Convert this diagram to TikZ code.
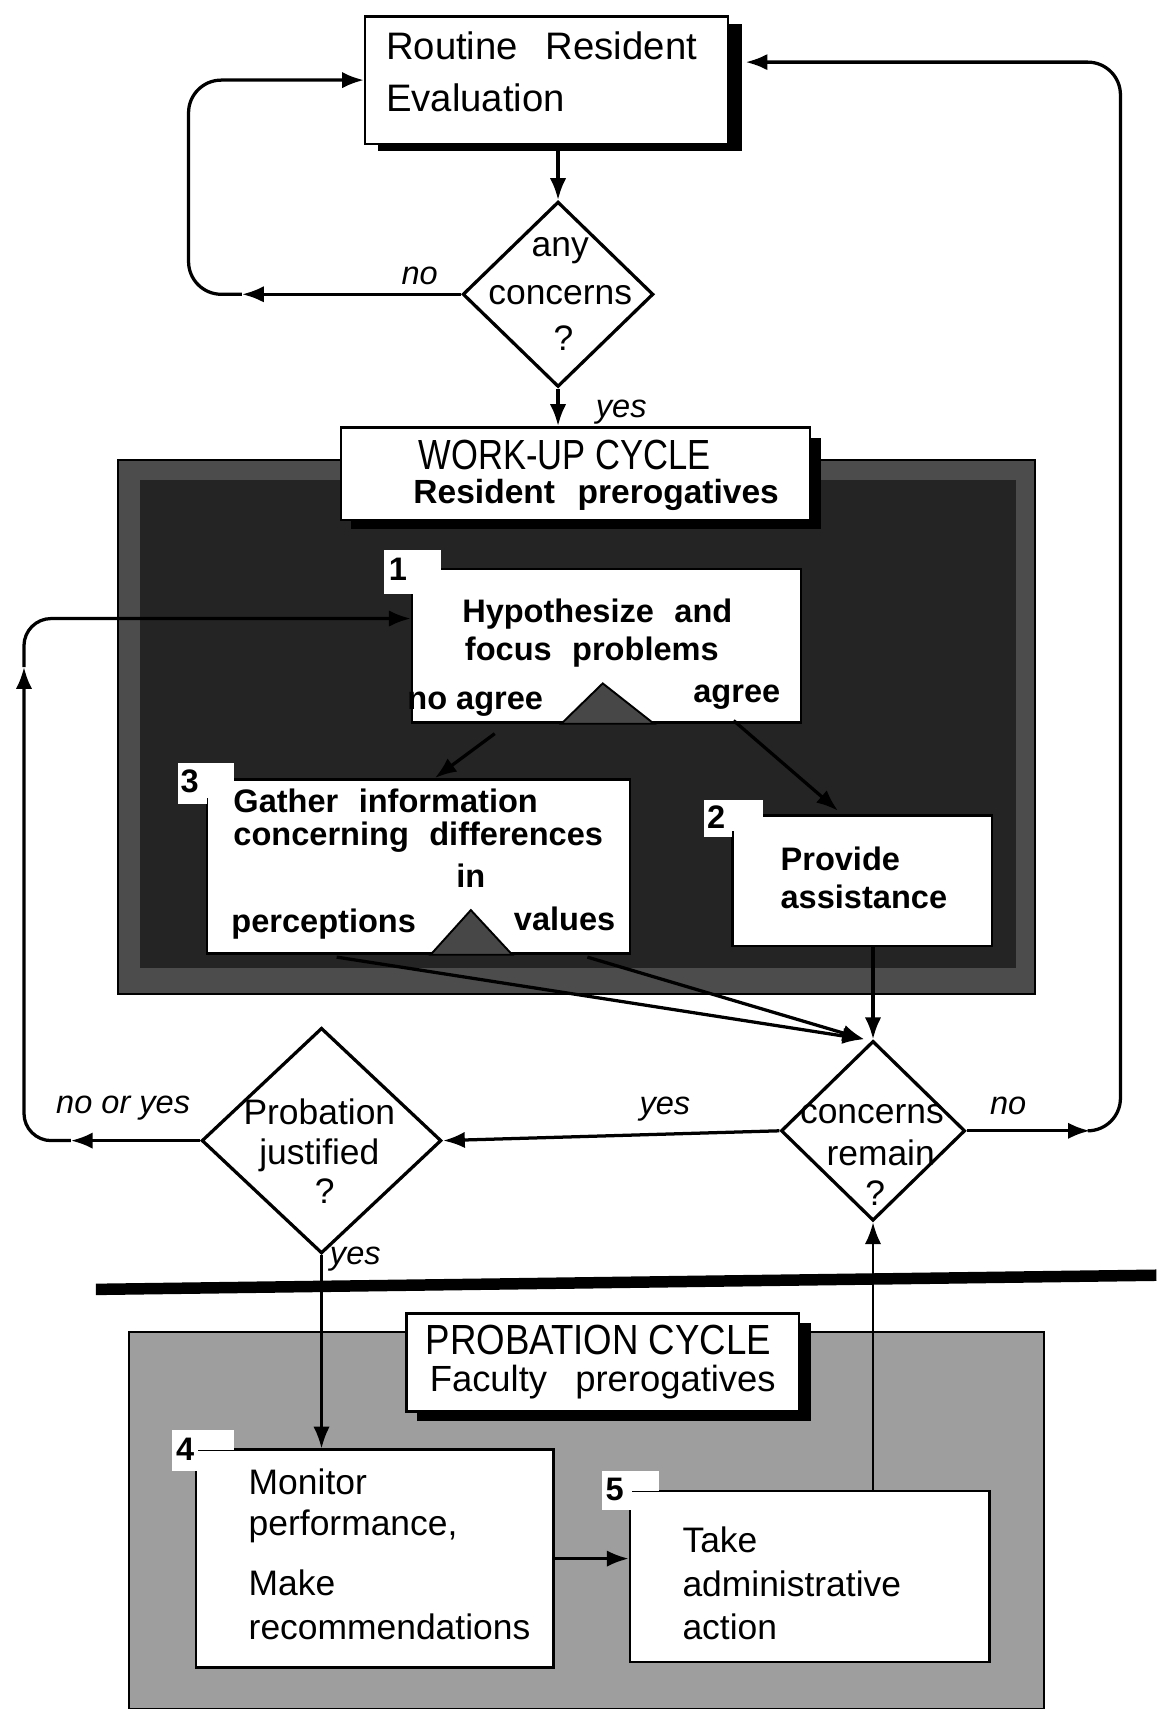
\documentclass[tikz,border=0pt]{standalone}
\usepackage{fontspec}
\setmainfont{Liberation Sans}
\newfontfamily\narrowfont[FakeStretch=0.82]{Liberation Sans}
\newfontfamily\probfont[FakeStretch=0.87]{Liberation Sans}
\usetikzlibrary{arrows.meta,shapes.geometric,calc}
\begin{document}
\begin{tikzpicture}[x=0.02cm,y=-0.02cm,
  line/.style={line width=1.7pt},
  arr/.style={line width=1.7pt,-{Latex[length=0.4cm,width=0.3cm]}},
  thinarr/.style={line width=1.3pt,-{Latex[length=0.4cm,width=0.3cm]}},
  wbox/.style={draw,line width=1.3pt,fill=white,inner sep=0pt},
  diam/.style={draw,diamond,line width=1.7pt,fill=white,inner sep=0pt},
  tlarge/.style={font=\fontsize{20}{24}\selectfont},
  thead/.style={font=\narrowfont\fontsize{22}{26}\selectfont},
  tprob/.style={font=\probfont\fontsize{22}{26}\selectfont},
  tbold/.style={font=\bfseries\fontsize{17}{20}\selectfont},
  treg/.style={font=\fontsize{18.5}{22}\selectfont},
  tlab/.style={font=\itshape\fontsize{17}{20}\selectfont},
  tnum/.style={font=\bfseries\fontsize{17}{20}\selectfont,inner sep=1pt},
  tabfill/.style={fill=white},
  shadow/.style={fill=black}
]
\useasboundingbox (0,0) rectangle (1061,1568);
\fill[white] (0,0) rectangle (1061,1568);

% ---------- panels ----------
\node[draw,line width=1.2pt,fill=black!70,minimum width=16.84cm,minimum height=9.8cm,inner sep=0pt] (workpanel) at (529,667) {};
\fill[black!86] (128,440) rectangle (932,888);
\node[draw,line width=1.2pt,fill=black!38,minimum width=16.8cm,minimum height=6.92cm,inner sep=0pt] (probpanel) at (538,1395) {};

% ---------- top box ----------
\fill[shadow] (347,22) rectangle (681,139);
\node[wbox,minimum width=6.66cm,minimum height=2.34cm] (routine) at (501.5,73.5) {};
\node[tlarge,anchor=west] (rt1) at (348,42) {Routine\hspace{0.45em} Resident};
\node[tlarge,anchor=west] (rt2) at (348,90) {Evaluation};

% ---------- any concerns ----------
\node[diam,minimum width=3.5cm,minimum height=3.4cm] (any) at (512,270) {};
\node[treg] (a1) at (514,230) {any};
\node[treg] (a2) at (514,271) {concerns};
\node[treg] (a3) at (517,310) {?};

% ---------- work-up header ----------
\fill[shadow] (322,402) rectangle (753,485);
\node[wbox,minimum width=8.6cm,minimum height=1.7cm] (workup) at (528,434.5) {};
\node[thead] (w1) at (518,417) {WORK-UP CYCLE};
\node[tbold,font=\bfseries\fontsize{17.5}{20}\selectfont] (w2) at (547,454) {Resident\hspace{0.4em} prerogatives};

% ---------- box 1 ----------
\node[wbox,minimum width=7.14cm,minimum height=2.82cm] (box1) at (556.5,592.5) {};
\fill[tabfill] (352,505) rectangle (405,540);
\fill[tabfill] (352,505) rectangle (380,545);
\node[tnum] (n1) at (365,522) {1};
\fill[black!72,draw=black,line width=1pt] (515,664) -- (553,627) -- (600,664) -- cycle;
\node[tbold] (b1a) at (548,563) {Hypothesize\hspace{0.35em} and};
\node[tbold] (b1b) at (543,598) {focus\hspace{0.35em} problems};
\node[tbold] (b1c) at (436,646) {no agree};
\node[tbold] (b1d) at (676,640) {agree};

% ---------- box 3 ----------
\node[wbox,minimum width=7.76cm,minimum height=3.2cm] (box3) at (384,795) {};
\fill[tabfill] (163,700) rectangle (215,732);
\fill[tabfill] (163,700) rectangle (190,738);
\node[tnum] (n3) at (174,717) {3};
\fill[black!72,draw=black,line width=1pt] (395,876) -- (432,835) -- (470,876) -- cycle;
\node[tbold,anchor=west] (b3a) at (208,735) {Gather\hspace{0.35em} information};
\node[tbold,anchor=west] (b3b) at (208,768) {concerning\hspace{0.35em} differences};
\node[tbold] (b3c) at (432,803) {in};
\node[tbold] (b3d) at (297,848) {perceptions};
\node[tbold] (b3e) at (518,843) {values};

% ---------- box 2 ----------
\node[wbox,minimum width=4.76cm,minimum height=2.4cm] (box2) at (791,808) {};
\fill[tabfill] (646,734) rectangle (700,762);
\fill[tabfill] (646,734) rectangle (672,768);
\node[tnum] (n2) at (657,750) {2};
\node[tbold,anchor=west] (b2a) at (710,788) {Provide};
\node[tbold,anchor=west] (b2b) at (710,823) {assistance};

% ---------- decisions ----------
\node[diam,minimum width=3.38cm,minimum height=3.3cm] (concerns) at (801,1037.5) {};
\node[treg] (c1) at (800,1022) {concerns};
\node[treg] (c2) at (808,1058) {remain};
\node[treg] (c3) at (803,1095) {?};

\node[diam,minimum width=4.4cm,minimum height=4.14cm] (prob) at (295,1046.5) {};
\node[treg] (p1) at (293,1020) {Probation};
\node[treg] (p2) at (293,1060) {justified};
\node[treg] (p3) at (298,1093) {?};

% ---------- separator ----------
\draw[line width=6pt] (88,1183) -- (1061,1170);

% ---------- probation header ----------
\fill[shadow] (383,1214) rectangle (744,1304);
\node[wbox,minimum width=7.2cm,minimum height=1.8cm] (probhead) at (553,1250) {};
\node[tprob] (ph1) at (549,1229) {PROBATION CYCLE};
\node[treg,font=\fontsize{19}{22}\selectfont] (ph2) at (553,1268) {Faculty\hspace{0.5em} prerogatives};

% ---------- box 4 ----------
\node[wbox,minimum width=6.56cm,minimum height=4.0cm] (box4) at (344,1430) {};
\fill[tabfill] (158,1312) rectangle (215,1330);
\fill[tabfill] (158,1312) rectangle (182,1350);
\node[tnum] (n4) at (170,1330) {4};
\node[treg,anchor=west] (b4a) at (222,1360) {Monitor};
\node[treg,anchor=west] (b4b) at (222,1400) {performance,};
\node[treg,anchor=west] (b4c) at (222,1452) {Make};
\node[treg,anchor=west] (b4d) at (222,1493) {recommendations};

% ---------- box 5 ----------
\node[wbox,minimum width=6.6cm,minimum height=3.14cm] (box5) at (743,1446.5) {};
\fill[tabfill] (552,1350) rectangle (605,1368);
\fill[tabfill] (552,1350) rectangle (580,1385);
\node[tnum] (n5) at (564,1367) {5};
\node[treg,anchor=west] (b5a) at (620,1413) {Take};
\node[treg,anchor=west] (b5b) at (620,1453) {administrative};
\node[treg,anchor=west] (b5c) at (620,1493) {action};

% ---------- connectors ----------
\coordinate (noL) at (222,270);
\coordinate (loopL) at (173,73.5);
\coordinate (noR) at (1000,1037.5);
\coordinate (loopR) at (1028,57);
\coordinate (nyL) at (65,1046.5);
\coordinate (upA) at (22,612);

\draw[arr] (any.north |- routine.south) -- (any.north);
\draw[arr] (any.west) -- (noL);
\draw[arr,rounded corners=0.6cm] (noL) -| (loopL) -- (routine.west);
\node[tlab] (lno1) at (385,253) {no};

\draw[arr] (any.south) -- (any.south |- workup.north);
\node[tlab] (lyes1) at (570,378) {yes};

\draw[arr] ($(box1.south west)+(77,9)$) -- ($(box3.north west)+(210,0)$);
\draw[arr] ($(box1.south east)+(-63,-3)$) -- ($(box2.north west)+(98,-3)$);

\draw[arr] ($(box3.south west)+(120,2)$) -- ($(concerns.north)+(-8,0)$);
\draw[arr] ($(box3.south west)+(350,2)$) -- ($(concerns.north)+(-8,0)$);
\draw[arr] (concerns.north |- box2.south) -- (concerns.north);

\draw[arr] (concerns.west) -- (prob.east);
\node[tlab] (lyes2) at (610,1018) {yes};

\draw[arr] (concerns.east) -- (noR);
\draw[arr,rounded corners=0.6cm] (noR) -| (loopR) -- ($(routine.east)+(15,-16.5)$);
\node[tlab] (lno2) at (925,1015) {no};

\draw[arr] (prob.west) -- (nyL);
\draw[arr,rounded corners=0.5cm] (nyL) -| (upA);
\draw[arr,rounded corners=0.5cm] (upA) |- ($(box1.west)+(0,-25)$);
\node[tlab] (lny) at (113,1017) {no or yes};

\draw[thinarr] (prob.south) -- (prob.south |- box4.north);
\node[tlab] (lyes3) at (326,1155) {yes};

\draw[thinarr] (concerns.south |- box5.north) -- (concerns.south);

\draw[arr] (box4.east) -- (box4.east -| box5.west);
\end{tikzpicture}
\end{document}
